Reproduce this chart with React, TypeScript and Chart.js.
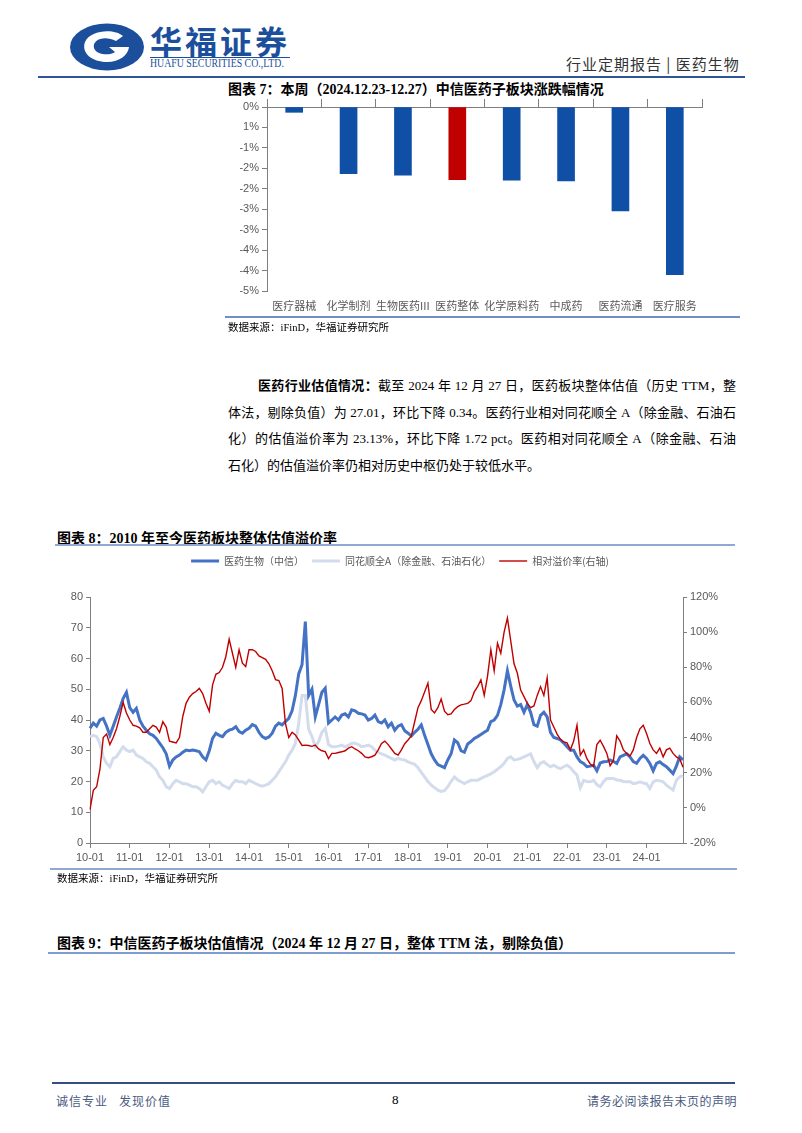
import React, { useEffect, useRef } from "react";
import { Chart, registerables } from "chart.js";

Chart.register(...registerables);

// ---------- Chart 7 data ----------
const sectors = ["医疗器械", "化学制剂", "生物医药III", "医药整体", "化学原料药", "中成药", "医药流通", "医疗服务"];
const weeklyChange = [-0.13, -1.63, -1.67, -1.78, -1.79, -1.81, -2.54, -4.1];
const highlightSector = "医药整体";
const barYTickLabels = ["0%", "1%", "-1%", "-2%", "-2%", "-3%", "-3%", "-4%", "-4%", "-5%"];

// ---------- Chart 8 data (monthly, 2010-01 .. 2024-12) ----------
const years = ["10", "11", "12", "13", "14", "15", "16", "17", "18", "19", "20", "21", "22", "23", "24"];
const monthNums = ["01", "02", "03", "04", "05", "06", "07", "08", "09", "10", "11", "12"];
const monthLabels = years.flatMap((y) => monthNums.map((m) => `${y}-${m}`));

const medicinePE = [
  37.3, 39, 38, 40, 40.5, 38, 35, 38, 41, 43.8, 47, 49,
  44, 42.5, 43.8, 40, 38, 36.7, 35.5, 35, 34, 32.5, 31, 29,
  25, 27, 28, 28.6, 29.5, 30.2, 30, 30.2, 30, 29.7, 28, 27,
  30, 34, 35.7, 35, 34.6, 36, 36.7, 37, 37.8, 36.2, 35.7, 36.7,
  37.3, 38.5, 38, 36, 34.6, 34, 34.5, 35.7, 38, 39, 38.4, 39.5,
  40.5, 43, 48, 55, 58, 72, 48, 50, 41, 45, 49, 50.3,
  39, 40, 41, 40, 41.6, 42, 41, 43.3, 43, 42.2, 42, 41.6,
  40, 40.5, 41.6, 39.5, 39, 40, 37.8, 39, 36.7, 38, 38.5, 36.5,
  35.7, 34.8, 36, 37, 38.4, 35, 32, 29, 27, 25.5, 25, 24.5,
  27, 29, 33.5, 32.6, 30, 29.5, 32.2, 33, 34, 34.6, 35.3, 36,
  36.7, 39.5, 40, 41.5, 45, 49.8, 56, 51, 46.5, 44.5, 45, 42.5,
  45, 42.5, 38.5, 38, 41.5, 42.5, 41, 36, 34.3, 34, 33.5, 32.5,
  31.3, 30.2, 30.2, 28, 26.5, 25.9, 24.8, 25, 25.3, 23.5, 26, 26.4,
  26.5, 27, 26.5, 25.9, 28, 28.5, 29, 28, 26.5, 25.9, 27.5, 28.5,
  27.5, 25.9, 23.5, 25.9, 26.4, 25.5, 24.8, 23.7, 22.6, 25, 28, 27.01,
];

const allAPE = [
  34.6, 35, 34.6, 32.4, 28, 25.9, 24.8, 27.5, 28, 29.7, 31.3, 30.2,
  29.7, 30.2, 28.6, 28, 27.5, 26.4, 25.9, 24.8, 23.7, 21.5, 20.4, 18.3,
  17.7, 19.3, 20.4, 19.9, 19.3, 19.3, 18.8, 18.3, 18.3, 17.7, 16.6, 18.3,
  19.9, 20.4, 19.3, 19.9, 18.8, 18.3, 17.7, 19.3, 20.4, 19.9, 19.9, 19.3,
  20.4, 19.9, 19.3, 18.8, 18.5, 18.8, 19.3, 20.4, 21.5, 23.2, 24.8, 26.4,
  28.6, 30.2, 32.4, 38.9, 48, 48, 37, 34.6, 31.3, 33, 36, 37.3,
  32, 31.3, 31.3, 31.5, 31.8, 31.3, 31.8, 32.4, 32.4, 32, 31.3, 31.5,
  31.8, 31.3, 30.2, 29.5, 29, 28.6, 28, 27.5, 27, 27.5, 27.2, 27,
  26.4, 26, 25.6, 24.5, 23, 21.5, 20, 18.8, 18, 17.2, 16.8, 17,
  18.3, 20, 21.5, 20.5, 19.9, 19.3, 19.9, 20.4, 20.4, 20.4, 21, 21.5,
  22, 22.5, 23.2, 24, 24.8, 25.9, 27.5, 28, 27, 27.2, 27.5, 28,
  28.5, 29, 26.5, 24.5, 26, 26.4, 25.5, 24.8, 25.3, 24.6, 24.2, 24.8,
  25.3, 24.5, 23.2, 22.1, 18, 20.4, 20, 19.9, 20.4, 19, 18.3, 19.9,
  21, 21, 21, 20.5, 20.4, 20, 19.9, 19.9, 19.3, 19.5, 19.9, 19.5,
  19.3, 17.7, 19.9, 20.4, 20.2, 19.9, 18.8, 18, 17.2, 20.4, 21.5, 21.94,
];

const premiumPct = [
  -1, 10, 12, 22, 40, 42, 36, 40, 45, 52, 60, 54,
  50, 47, 46.5, 45.5, 43, 43, 45, 47, 46, 43, 49, 46,
  38, 37.5, 37, 40, 52, 59.5, 63, 65, 66.2, 68, 65, 59.5,
  55, 70, 76, 77, 80, 86, 96, 88, 80, 90, 82.3, 80.4,
  90, 90, 89, 86.5, 85.5, 84.5, 82, 78, 73, 72.5, 68, 48,
  40, 43, 41.5, 38.5, 35.5, 35.7, 35.5, 35, 35.7, 33.5, 32.5, 32,
  28, 31, 31, 31.5, 31.9, 32.5, 34, 34.8, 33.5, 32.5, 31, 29,
  28.5, 29.1, 30, 33, 36.7, 38, 36, 33.5, 31, 30, 33, 36.5,
  38.6, 41, 49, 57, 61, 66, 71, 56, 54, 57, 62, 55,
  53, 53.5, 56, 57.6, 58.6, 59, 59.5, 61, 66, 69, 72.8, 64,
  75, 90, 78, 93.7, 88, 100, 108, 95, 82, 76.6, 67, 63.3,
  59.5, 57, 58, 64, 69, 64, 74, 50, 46, 42, 39, 37.5,
  37, 33, 38, 47, 30, 33, 28, 25, 23.5, 36, 38.5, 35,
  31, 24, 27, 41, 38, 33, 31, 29.5, 33, 40, 45, 47,
  42.3, 36.6, 33, 31, 34, 29, 33, 34, 31, 29, 28, 23.13,
];

const seriesNames = ["医药生物（中信）", "同花顺全A（除金融、石油石化）", "相对溢价率(右轴)"];

const SANS = "'Liberation Sans', 'Noto Sans CJK SC', sans-serif";
const CJK = "'Noto Sans CJK SC', 'Liberation Sans', sans-serif";
const SERIF = "'Liberation Serif', 'Noto Sans CJK SC', serif";
const AXIS = "#7f7f7f";
const TICK = "#595959";

function BarChart() {
  const ref = useRef<HTMLCanvasElement>(null);
  useEffect(() => {
    const chart = new Chart(ref.current as HTMLCanvasElement, {
      type: "bar",
      data: {
        labels: sectors,
        datasets: [
          {
            data: weeklyChange,
            backgroundColor: sectors.map((s) => (s === highlightSector ? "#C00000" : "#0F4FA6")),
            barThickness: 17,
            xAxisID: "x",
            yAxisID: "y",
          },
        ],
      },
      options: {
        animation: false,
        responsive: false,
        devicePixelRatio: 1,
        layout: { padding: { left: 0, right: 43, top: 0, bottom: 0 } },
        plugins: { legend: { display: false }, tooltip: { enabled: false } },
        scales: {
          x: {
            type: "category",
            position: "bottom",
            grid: { display: false, drawTicks: false },
            border: { display: false },
            ticks: { color: TICK, font: { family: CJK, size: 11 }, padding: 8, maxRotation: 0, autoSkip: false },
            afterFit: (s: any) => {
              s.height = 26;
            },
          },
          xTop: {
            type: "category",
            position: "top",
            offset: true,
            grid: { offset: true, drawOnChartArea: false, tickLength: 8, color: AXIS },
            border: { display: true, color: AXIS },
            ticks: { display: false },
            afterFit: (s: any) => {
              s.height = 15;
            },
          },
          y: {
            min: -4.5,
            max: 0,
            grid: { drawOnChartArea: false, tickLength: 5, color: AXIS },
            border: { display: true, color: AXIS },
            ticks: {
              stepSize: 0.5,
              color: TICK,
              font: { family: SANS, size: 11 },
              padding: 3,
              callback: (v: any) => barYTickLabels[Math.round(-Number(v) / 0.5)],
            },
            afterFit: (s: any) => {
              s.width = 52;
            },
          },
        },
      } as any,
    });
    return () => chart.destroy();
  }, []);
  return (
    <canvas
      ref={ref}
      width={530}
      height={225}
      style={{ position: "absolute", left: 215, top: 92, width: 530, height: 225 }}
    />
  );
}

function LineChart() {
  const ref = useRef<HTMLCanvasElement>(null);
  useEffect(() => {
    const legendSpacer = {
      id: "legendSpacer",
      beforeInit(chart: any) {
        const orig = chart.legend.fit;
        chart.legend.fit = function fit() {
          orig.call(this);
          this.height = 49;
        };
      },
    };
    const chart = new Chart(ref.current as HTMLCanvasElement, {
      type: "line",
      data: {
        labels: monthLabels,
        datasets: [
          {
            label: seriesNames[0],
            data: medicinePE,
            borderColor: "#4472C4",
            backgroundColor: "#4472C4",
            borderWidth: 3,
            pointRadius: 0,
            yAxisID: "y",
            order: 1,
          },
          {
            label: seriesNames[1],
            data: allAPE,
            borderColor: "#D3DCEC",
            backgroundColor: "#D3DCEC",
            borderWidth: 3,
            pointRadius: 0,
            yAxisID: "y",
            order: 2,
          },
          {
            label: seriesNames[2],
            data: premiumPct,
            borderColor: "#C00000",
            backgroundColor: "#C00000",
            borderWidth: 1.4,
            pointRadius: 0,
            yAxisID: "y1",
            order: 0,
          },
        ],
      },
      options: {
        animation: false,
        responsive: false,
        devicePixelRatio: 1,
        layout: { padding: 0 },
        plugins: {
          tooltip: { enabled: false },
          legend: {
            position: "top",
            labels: {
              usePointStyle: true,
              pointStyle: "line",
              pointStyleWidth: 28,
              color: TICK,
              font: { family: CJK, size: 10 },
              padding: 8,
              sort: (a: any, b: any) => a.datasetIndex - b.datasetIndex,
            },
          },
        },
        scales: {
          x: {
            type: "category",
            grid: {
              drawOnChartArea: false,
              tickLength: 5,
              color: (ctx: any) => (monthLabels[ctx.index] && monthLabels[ctx.index].endsWith("-01") ? AXIS : "rgba(0,0,0,0)"),
            },
            border: { display: true, color: AXIS },
            ticks: {
              autoSkip: false,
              maxRotation: 0,
              minRotation: 0,
              color: TICK,
              font: { family: SANS, size: 11 },
              padding: 3,
              callback: (_v: any, i: number) => (monthLabels[i].endsWith("-01") ? monthLabels[i] : ""),
            },
            afterFit: (s: any) => {
              s.height = 27;
            },
          },
          y: {
            position: "left",
            min: 0,
            max: 80,
            grid: { drawOnChartArea: false, tickLength: 4, color: AXIS },
            border: { display: true, color: AXIS },
            ticks: { stepSize: 10, color: TICK, font: { family: SANS, size: 11 }, padding: 3 },
            afterFit: (s: any) => {
              s.width = 40;
            },
          },
          y1: {
            position: "right",
            min: -20,
            max: 120,
            grid: { drawOnChartArea: false, tickLength: 4, color: AXIS },
            border: { display: true, color: AXIS },
            ticks: {
              stepSize: 20,
              color: TICK,
              font: { family: SANS, size: 11 },
              padding: 3,
              callback: (v: any) => `${v}%`,
            },
            afterFit: (s: any) => {
              s.width = 67;
            },
          },
        },
      } as any,
      plugins: [legendSpacer],
    });
    return () => chart.destroy();
  }, []);
  return (
    <canvas
      ref={ref}
      width={700}
      height={322}
      style={{ position: "absolute", left: 50, top: 548, width: 700, height: 322 }}
    />
  );
}

const abs = (left: number, top: number, extra: React.CSSProperties = {}): React.CSSProperties => ({
  position: "absolute",
  left,
  top,
  whiteSpace: "nowrap",
  ...extra,
});

function Logo() {
  return (
    <svg width="78" height="50" viewBox="0 0 78 50" style={{ position: "absolute", left: 68, top: 22 }}>
      <ellipse cx="39" cy="25" rx="37" ry="23.5" fill="#1B4F9C" />
      <path
        d="M 55 14 C 46 6, 22 8, 17 20 C 13 31, 24 40, 39 40 C 52 40, 60 33, 61 25 L 41 25 L 47 30 C 42 34, 28 33, 26 26 C 24 18, 36 13, 48 19 Z"
        fill="#ffffff"
      />
      <path d="M 33 22 L 39 17 L 45 22 L 39 27 Z" fill="#1B4F9C" />
    </svg>
  );
}

const para: React.CSSProperties = {
  position: "absolute",
  fontFamily: SERIF,
  fontSize: 13,
  lineHeight: "18px",
  color: "#000",
  textAlign: "justify",
  textAlignLast: "justify" as any,
  whiteSpace: "nowrap",
};

export default function App() {
  const titleStyle: React.CSSProperties = { fontFamily: SERIF, fontSize: 14, fontWeight: 700, color: "#000" };
  const srcStyle: React.CSSProperties = { fontFamily: SERIF, fontSize: 10.5, color: "#000" };
  return (
    <div style={{ position: "absolute", left: 0, top: 0, width: 802, height: 1133, background: "#fff", overflow: "hidden" }}>
      {/* Header */}
      <Logo />
      <div style={abs(150, 17, { fontFamily: CJK, fontSize: 32, fontWeight: 700, color: "#1B4F9C", letterSpacing: 3 })}>
        华福证券
      </div>
      <div style={{ position: "absolute", left: 150, top: 57, width: 140, height: 1, background: "#1B4F9C" }} />
      <div
        style={abs(150, 56, {
          fontFamily: "'Liberation Serif', serif",
          fontSize: 12,
          color: "#1B4F9C",
          transform: "scaleX(0.82)",
          transformOrigin: "left top",
        })}
      >
        HUAFU SECURITIES CO.,LTD.
      </div>
      <div style={abs(566, 53, { fontFamily: CJK, fontSize: 15, color: "#333", letterSpacing: 1 })}>
        行业定期报告 | 医药生物
      </div>
      <div style={{ position: "absolute", left: 38, top: 76, width: 707, height: 2, background: "#2F5597" }} />

      {/* Chart 7 */}
      <div style={abs(228, 78, titleStyle)}>图表 7：本周（2024.12.23-12.27）中信医药子板块涨跌幅情况</div>
      <BarChart />
      <div style={{ position: "absolute", left: 225, top: 316, width: 515, height: 1.5, background: "#6F8FC4" }} />
      <div style={abs(228, 319, srcStyle)}>数据来源：iFinD，华福证券研究所</div>

      {/* Paragraph */}
      <div style={{ ...para, left: 258, top: 377, width: 478 }}>
        <b>医药行业估值情况：</b>截至 2024 年 12 月 27 日，医药板块整体估值（历史 TTM，整
      </div>
      <div style={{ ...para, left: 228, top: 403.5, width: 508 }}>
        体法，剔除负值）为 27.01，环比下降 0.34。医药行业相对同花顺全 A（除金融、石油石
      </div>
      <div style={{ ...para, left: 228, top: 430, width: 508 }}>
        化）的估值溢价率为 23.13%，环比下降 1.72 pct。医药相对同花顺全 A（除金融、石油
      </div>
      <div style={{ ...para, left: 228, top: 456.5, textAlign: "left", textAlignLast: "left" as any }}>
        石化）的估值溢价率仍相对历史中枢仍处于较低水平。
      </div>

      {/* Chart 8 */}
      <div style={abs(57, 527, titleStyle)}>图表 8：2010 年至今医药板块整体估值溢价率</div>
      <div style={{ position: "absolute", left: 55, top: 544, width: 680, height: 1.5, background: "#8FA8D4" }} />
      <LineChart />
      <div style={{ position: "absolute", left: 50, top: 868, width: 687, height: 1.5, background: "#8FA8D4" }} />
      <div style={abs(57, 870, srcStyle)}>数据来源：iFinD，华福证券研究所</div>

      {/* Chart 9 title */}
      <div style={abs(57, 932, titleStyle)}>图表 9：中信医药子板块估值情况（2024 年 12 月 27 日，整体 TTM 法，剔除负值）</div>
      <div style={{ position: "absolute", left: 48, top: 952, width: 687, height: 2, background: "#7F9BD0" }} />

      {/* Footer */}
      <div style={{ position: "absolute", left: 52, top: 1082, width: 683, height: 1.5, background: "#34507F" }} />
      <div style={abs(56, 1092, { fontFamily: CJK, fontSize: 12, color: "#4A5A80", letterSpacing: 1 })}>
        诚信专业&nbsp;&nbsp;&nbsp;发现价值
      </div>
      <div style={abs(392, 1092, { fontFamily: SERIF, fontSize: 13, color: "#000" })}>8</div>
      <div style={abs(587, 1092, { fontFamily: CJK, fontSize: 12, color: "#4A5A80", letterSpacing: 0.5 })}>
        请务必阅读报告末页的声明
      </div>
    </div>
  );
}
